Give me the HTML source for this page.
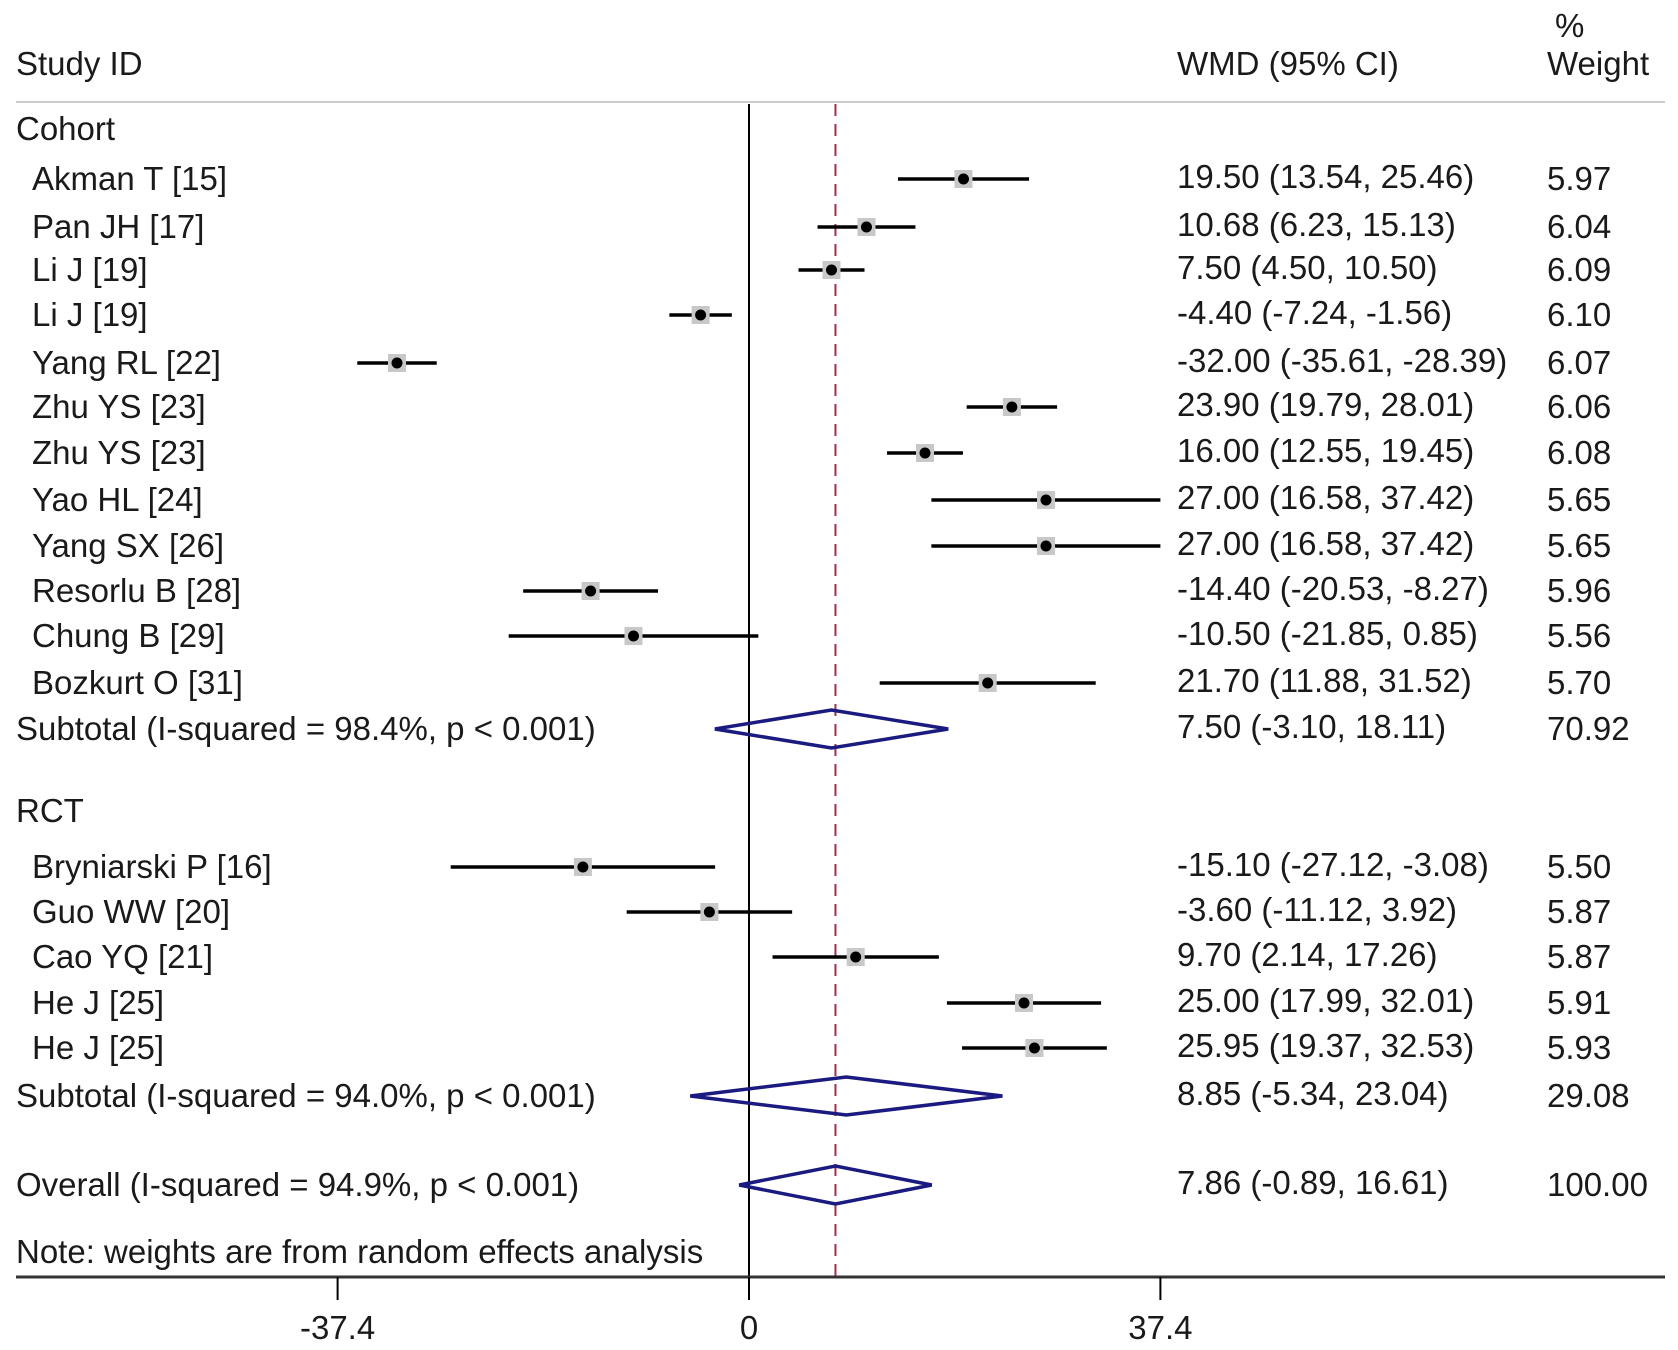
<!DOCTYPE html>
<html><head><meta charset="utf-8"><style>
html,body{margin:0;padding:0;background:#fff;}
svg{display:block;}
text{font-family:"Liberation Sans",Arial,sans-serif;font-size:33px;fill:#1a1a1a;}
</style></head><body>
<svg id="chart" width="1678" height="1350" viewBox="0 0 1678 1350">
<g id="layer"></g>
</svg>
<script>
const labels=["Akman T [15]","Pan JH [17]","Li J [19]","Li J [19]","Yang  RL [22]","Zhu YS [23]","Zhu YS [23]","Yao HL [24]","Yang SX [26]","Resorlu B [28]","Chung B [29]","Bozkurt O [31]","Bryniarski P [16]","Guo WW [20]","Cao YQ [21]","He J [25]","He J [25]"];
const est=[19.50,10.68,7.50,-4.40,-32.00,23.90,16.00,27.00,27.00,-14.40,-10.50,21.70,-15.10,-3.60,9.70,25.00,25.95];
const lo=[13.54,6.23,4.50,-7.24,-35.61,19.79,12.55,16.58,16.58,-20.53,-21.85,11.88,-27.12,-11.12,2.14,17.99,19.37];
const hi=[25.46,15.13,10.50,-1.56,-28.39,28.01,19.45,37.42,37.42,-8.27,0.85,31.52,-3.08,3.92,17.26,32.01,32.53];
const weights=["5.97","6.04","6.09","6.10","6.07","6.06","6.08","5.65","5.65","5.96","5.56","5.70","5.50","5.87","5.87","5.91","5.93"];
const rowY=[179,227,270,315,363,407,453,500,546,591,636,683,867,912,957,1003,1048];
const pooledLabels=["Subtotal (I-squared = 98.4%, p < 0.001)","Subtotal (I-squared = 94.0%, p < 0.001)","Overall (I-squared = 94.9%, p < 0.001)"];
const pooledEst=[7.50,8.85,7.86];
const pooledLo=[-3.10,-5.34,-0.89];
const pooledHi=[18.11,23.04,16.61];
const pooledW=["70.92","29.08","100.00"];
const pooledY=[729,1096,1185];
const ticks=[-37.4,0,37.4];
const tickLabels=["-37.4","0","37.4"];

const NS="http://www.w3.org/2000/svg";
const g=document.getElementById('layer');
const X0=749, PXU=11.0, XMAX=37.4;
function xs(v){return X0+v*PXU;}
function clip(v){return Math.max(-41,Math.min(XMAX,v));}
function el(t,a,parent){const e=document.createElementNS(NS,t);for(const k in a)e.setAttribute(k,a[k]);(parent||g).appendChild(e);return e;}
function txt(s,x,y,anchor){const e=el('text',{x:x,y:y+11,'text-anchor':anchor||'start'});e.textContent=s;return e;}

let h;
h=txt("Study ID",16,64);
h=txt("WMD (95% CI)",1177,64);
h=txt("%",1555,26);
h=txt("Weight",1547,64);
h=el('line',{x1:16,y1:102,x2:1665,y2:102,stroke:'#ccc','stroke-width':2});
h=txt("Cohort",16,129);
h=txt("RCT",16,811);
h=txt("Note: weights are from random effects analysis",16,1252);

h=el('line',{x1:xs(0),y1:104,x2:xs(0),y2:1277,stroke:'#000','stroke-width':2});
h=el('line',{x1:xs(pooledEst[2]),y1:104,x2:xs(pooledEst[2]),y2:1277,stroke:'#a0304a','stroke-width':2,'stroke-dasharray':'12,8'});

for(let i=0;i<labels.length;i++){
  const y=rowY[i];
  const a=txt(labels[i],32,y);
  const l=el('line',{x1:xs(clip(lo[i])),y1:y,x2:xs(clip(hi[i])),y2:y,stroke:'#000','stroke-width':3.5});
  
  const s=el('rect',{x:xs(est[i])-9,y:y-9,width:18,height:18,fill:'#c8c8c8'});
  
  const d=el('circle',{cx:xs(est[i]),cy:y,r:5.5,fill:'#000'});
  
  const c=txt(est[i].toFixed(2)+" ("+lo[i].toFixed(2)+", "+hi[i].toFixed(2)+")",1177,y-2);
  
  const w=txt(weights[i],1547,y);
}
for(let i=0;i<pooledEst.length;i++){
  const y=pooledY[i];
  const a=txt(pooledLabels[i],16,y);
  const p=el('polygon',{points:[xs(pooledLo[i])+','+y,xs(pooledEst[i])+','+(y-19),xs(pooledHi[i])+','+y,xs(pooledEst[i])+','+(y+19)].join(' '),fill:'none',stroke:'#1a1a80','stroke-width':3.5});
  
  const c=txt(pooledEst[i].toFixed(2)+" ("+pooledLo[i].toFixed(2)+", "+pooledHi[i].toFixed(2)+")",1177,y-2);
  
  const w=txt(pooledW[i],1547,y);
}
h=el('line',{x1:16,y1:1277,x2:1665,y2:1277,stroke:'#333','stroke-width':3});
for(let i=0;i<ticks.length;i++){
  const t=el('line',{x1:xs(ticks[i]),y1:1277,x2:xs(ticks[i]),y2:1300,stroke:'#000','stroke-width':2});
  
  const lb=txt(tickLabels[i],xs(ticks[i]),1328,'middle');
  
}
</script>
</body></html>
